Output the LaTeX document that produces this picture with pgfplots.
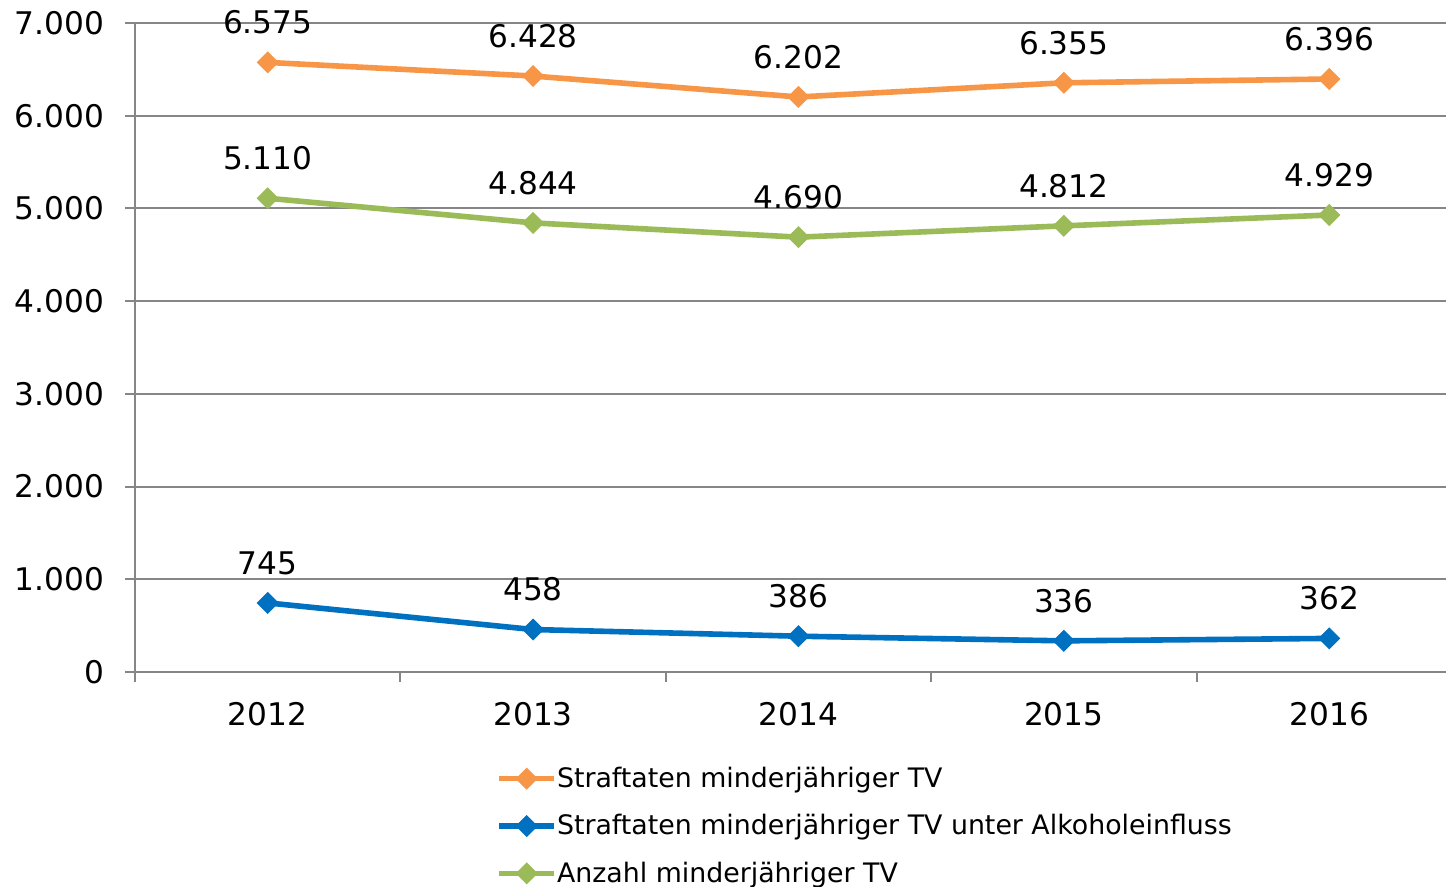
\documentclass[border=0pt]{standalone}
\usepackage{fontspec}
\setmainfont{DejaVu Sans}
\usepackage{pgfplots}
\pgfplotsset{compat=1.18}
\definecolor{cor}{HTML}{F79646}
\definecolor{cbl}{HTML}{0070C0}
\definecolor{cgr}{HTML}{9BBB59}
\definecolor{grd}{HTML}{868686}
\begin{document}
\begin{tikzpicture}
\path[use as bounding box] (-67.5pt,-107.5pt) rectangle (655.5pt,336pt);
\begin{axis}[
  at={(0,0)}, anchor=south west,
  scale only axis, width=655.5pt, height=324.5pt,
  xmin=-0.5, xmax=4.44, ymin=0, ymax=7000,
  clip=false,
  axis x line*=bottom, axis y line*=left,
  axis line style={-, draw=grd, line width=1pt},
  ytick={0,1000,...,7000},
  ymajorgrids, grid style={grd, line width=1pt},
  xtick={-0.5,0.5,1.5,2.5,3.5}, xticklabels={},
  extra x ticks={0,1,2,3,4},
  extra x tick labels={2012,2013,2014,2015,2016},
  extra x tick style={major tick length=0pt, grid=none},
  tick align=outside, major tick length=5pt,
  tick style={draw=grd, line width=1pt},
  /pgf/number format/.cd, use comma, 1000 sep={.}, assume math mode=true,
  /pgfplots/.cd,
  tick label style={font=\fontsize{15.6}{18}\selectfont},
  x tick label style={anchor=center, yshift=-21pt},
  y tick label style={xshift=-7pt},
  nodes near coords,
  nodes near coords style={font=\fontsize{15.6}{18}\selectfont, anchor=center, yshift=20pt, black},
  every axis plot/.append style={line width=2.8pt, mark=square*, mark size=3.4pt, mark options={rotate=45, solid, line width=1pt}},
  legend image code/.code={\draw[mark repeat=2,mark phase=2,#1] plot coordinates {(0pt,0pt) (13.75pt,0pt) (27.5pt,0pt)};},
  legend cell align=left,
  legend style={at={(rel axis cs:0,0)}, anchor=north west, xshift=177.5pt, yshift=-43.3pt,
    draw=none, fill=none, font=\fontsize{13.4}{16}\selectfont, row sep=8pt,
    /tikz/every odd column/.append style={column sep=-2pt}},
]
\addplot[color=cor] coordinates {(0,6575) (1,6428) (2,6202) (3,6355) (4,6396)};
\addlegendentry{Straftaten minderjähriger TV}
\addplot[color=cbl] coordinates {(0,745) (1,458) (2,386) (3,336) (4,362)};
\addlegendentry{Straftaten minderjähriger TV unter Alkoholeinfluss}
\addplot[color=cgr] coordinates {(0,5110) (1,4844) (2,4690) (3,4812) (4,4929)};
\addlegendentry{Anzahl minderjähriger TV}
\end{axis}
\end{tikzpicture}
\end{document}
